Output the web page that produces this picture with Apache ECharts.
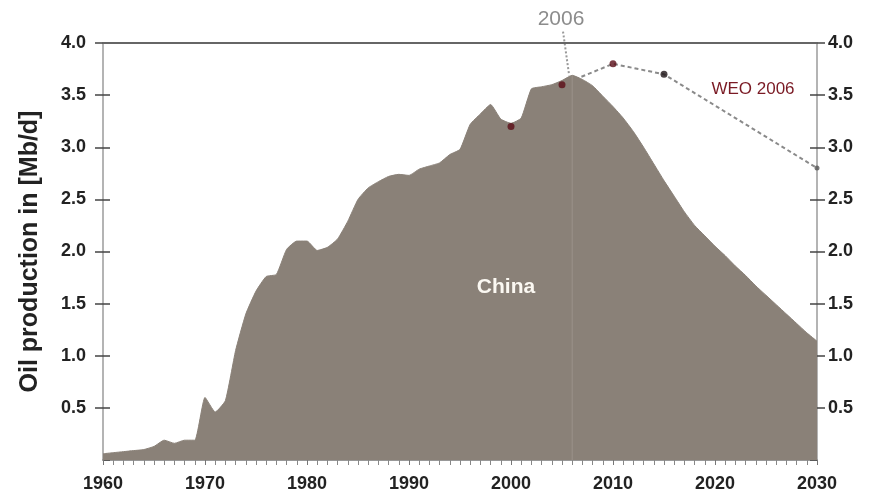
<!DOCTYPE html>
<html>
<head>
<meta charset="utf-8">
<script src="https://cdn.jsdelivr.net/npm/echarts@6/dist/echarts.min.js"></script>
<style>
  html, body { margin: 0; padding: 0; background: #fff; }
  #chart { width: 869px; height: 499px; }
</style>
</head>
<body>
<div id="chart"></div>
<script>
const years = [
  1960, 1961, 1962, 1963, 1964, 1965, 1966, 1967, 1968, 1969,
  1970, 1971, 1972, 1973, 1974, 1975, 1976, 1977, 1978, 1979,
  1980, 1981, 1982, 1983, 1984, 1985, 1986, 1987, 1988, 1989,
  1990, 1991, 1992, 1993, 1994, 1995, 1996, 1997, 1998, 1999,
  2000, 2001, 2002, 2003, 2004, 2005, 2006, 2007, 2008, 2009,
  2010, 2011, 2012, 2013, 2014, 2015, 2016, 2017, 2018, 2019,
  2020, 2021, 2022, 2023, 2024, 2025, 2026, 2027, 2028, 2029,
  2030
];
const production = [
  0.06, 0.07, 0.08, 0.09, 0.10, 0.13, 0.19, 0.16, 0.19, 0.19,
  0.60, 0.46, 0.57, 1.05, 1.40, 1.62, 1.76, 1.78, 2.02, 2.10,
  2.10, 2.01, 2.04, 2.12, 2.29, 2.50, 2.61, 2.67, 2.72, 2.74,
  2.73, 2.79, 2.82, 2.85, 2.93, 2.98, 3.22, 3.32, 3.41, 3.27,
  3.23, 3.28, 3.56, 3.58, 3.60, 3.64, 3.69, 3.65, 3.59, 3.49,
  3.39, 3.28, 3.15, 3.00, 2.84, 2.68, 2.53, 2.38, 2.25, 2.15,
  2.05, 1.96, 1.86, 1.77, 1.67, 1.58, 1.49, 1.40, 1.31, 1.22,
  1.14
];

// WEO 2006 forecast points
const weoYears = [2000, 2005, 2010, 2015, 2030];
const weoValues = [3.2, 3.6, 3.8, 3.7, 2.8];
const weoColors = ["#5a0c16", "#5a0c16", "#5a0c16", "#1e1416", "#555555"];

// pointer from the "2006" label down to the curve
const pointerYears = [2005.1, 2005.7];
const pointerValues = [4.11, 3.69];

const yTicks = ["0.5", "1.0", "1.5", "2.0", "2.5", "3.0", "3.5", "4.0"];

const chart = echarts.init(document.getElementById("chart"));
const font = "'Liberation Sans', Arial, Helvetica, sans-serif";

const areaData = years.map((y, i) => [y, production[i]]);
const weoLine = weoYears.slice(1).map((y, i) => [y, weoValues[i + 1]]);
const weoDots = weoYears.map((y, i) => ({
  value: [y, weoValues[i]],
  symbolSize: i === 4 ? 5 : 7,
  itemStyle: { color: weoColors[i] },
}));
const pointer = pointerYears.map((y, i) => [y, pointerValues[i]]);

const yLabel = {
  showMinLabel: false,
  formatter: (v) => (yTicks.includes(v.toFixed(1)) ? v.toFixed(1) : ""),
  fontFamily: font,
  fontWeight: "bold",
  fontSize: 18,
  color: "#222",
};

function yAxisBase(position, extra) {
  return Object.assign(
    {
      type: "value",
      min: 0,
      max: 4,
      interval: 0.5,
      position: position,
      splitLine: { show: false },
    },
    extra
  );
}

const option = {
  animation: false,
  backgroundColor: "#fff",
  grid: { left: 103, right: 52, top: 43, bottom: 39 },
  xAxis: {
    type: "value",
    min: 1960,
    max: 2030,
    interval: 10,
    position: "bottom",
    axisLine: { show: true, lineStyle: { color: "#777", width: 1.5 } },
    axisTick: { show: true, length: 5, lineStyle: { color: "#777" } },
    minorTick: { show: true, splitNumber: 10, length: 5, lineStyle: { color: "#888" } },
    splitLine: { show: false },
    axisLabel: {
      margin: 15,
      formatter: (v) => String(v),
      fontFamily: font,
      fontWeight: "bold",
      fontSize: 18,
      color: "#222",
    },
  },
  yAxis: [
    yAxisBase("left", {
      name: "Oil production in [Mb/d]",
      nameLocation: "middle",
      nameGap: 60,
      nameTextStyle: { fontFamily: font, fontWeight: "bold", fontSize: 25, color: "#222" },
      axisLine: { show: true, lineStyle: { color: "#b4b4b4", width: 2 } },
      axisTick: { show: true, length: 8, lineStyle: { color: "#444", width: 1.5 } },
      axisLabel: Object.assign({ margin: 17 }, yLabel),
    }),
    yAxisBase("right", {
      axisLine: { show: true, lineStyle: { color: "#b4b4b4", width: 2 } },
      axisTick: { show: true, length: 8, lineStyle: { color: "#444", width: 1.5 } },
      axisLabel: Object.assign({ margin: 11 }, yLabel),
    }),
    yAxisBase("left", {
      axisLine: { show: false },
      axisTick: { show: true, inside: true, length: 7, lineStyle: { color: "#444", width: 1.5 } },
      axisLabel: { show: false },
    }),
    yAxisBase("right", {
      axisLine: { show: false },
      axisTick: { show: true, inside: true, length: 7, lineStyle: { color: "#444", width: 1.5 } },
      axisLabel: { show: false },
    }),
  ],
  graphic: [
    {
      type: "text",
      x: 561,
      y: 19,
      style: { text: "2006", fill: "#8c8c8c", font: "21px " + font, align: "center", verticalAlign: "middle" },
    },
    {
      type: "text",
      x: 753,
      y: 89,
      style: { text: "WEO 2006", fill: "#7a1a24", font: "17px " + font, align: "center", verticalAlign: "middle" },
    },
    {
      type: "text",
      x: 506,
      y: 287,
      z: 100,
      style: { text: "China", fill: "#fbf8f2", font: "bold 21px " + font, align: "center", verticalAlign: "middle" },
    },
  ],
  series: [
    {
      name: "WEO 2006",
      type: "line",
      data: weoLine,
      z: 1,
      symbol: "none",
      lineStyle: { color: "#8a8a8a", width: 2, type: [4, 3] },
    },
    {
      name: "China",
      type: "line",
      data: areaData,
      z: 2,
      smooth: 0.15,
      symbol: "none",
      lineStyle: { color: "#8a8178", width: 1 },
      areaStyle: { color: "#8a8178", opacity: 1 },
      // top frame line at 4.0
      markLine: {
        silent: true,
        symbol: "none",
        label: { show: false },
        lineStyle: { color: "#666", width: 2, type: "solid" },
        data: [{ yAxis: 4 }],
      },
    },
    {
      name: "2006",
      type: "line",
      data: [[2006, 0], [2006, 3.69]],
      z: 3,
      symbol: "none",
      lineStyle: { color: "#9a928a", width: 1 },
    },
    {
      name: "pointer",
      type: "line",
      data: pointer,
      z: 4,
      clip: false,
      symbol: "none",
      lineStyle: { color: "#999", width: 2, type: [2, 2] },
    },
    {
      name: "WEO dots",
      type: "scatter",
      data: weoDots,
      z: 5,
      clip: false,
    },
  ],
};

chart.setOption(option);
</script>
</body>
</html>
